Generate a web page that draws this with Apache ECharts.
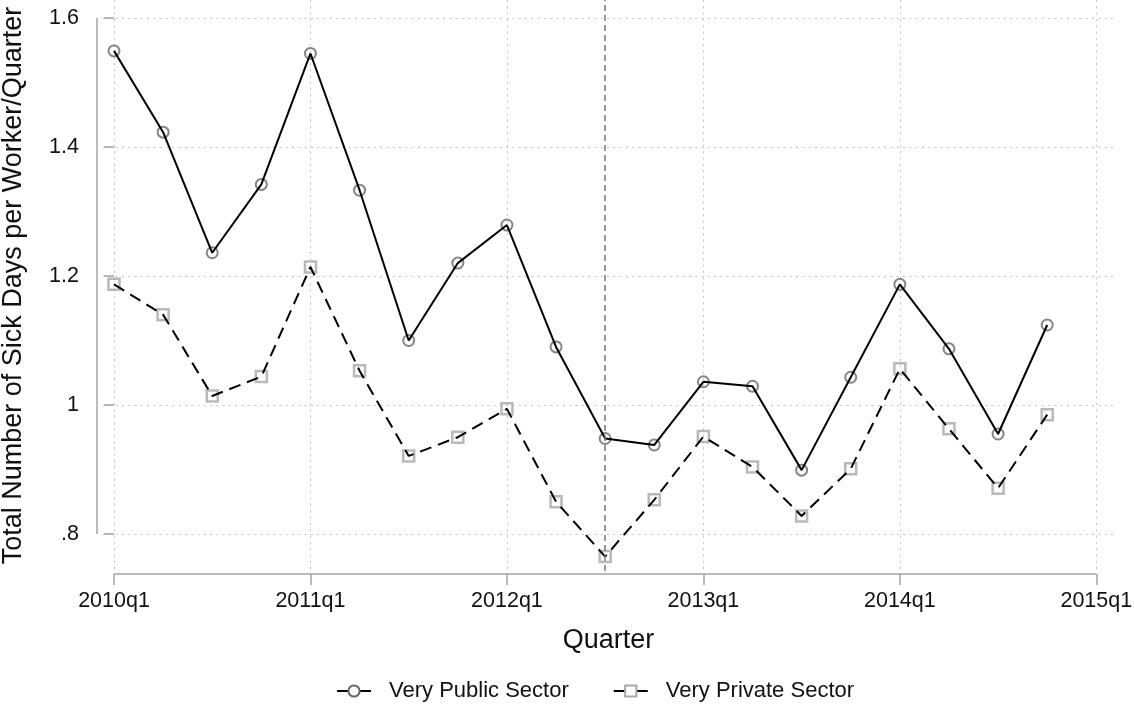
<!DOCTYPE html>
<html><head><meta charset="utf-8">
<script src="https://cdn.jsdelivr.net/npm/echarts@6/dist/echarts.min.js"></script>
<style>html,body{margin:0;padding:0;background:#fff}#c{width:1134px;height:713px}</style>
</head><body><div id="c"></div>
<script>
// ---- data ----
const quarters = ['2010q1','2010q2','2010q3','2010q4','2011q1','2011q2','2011q3','2011q4',
  '2012q1','2012q2','2012q3','2012q4','2013q1','2013q2','2013q3','2013q4',
  '2014q1','2014q2','2014q3','2014q4'];
const publicSector = [1.549,1.423,1.236,1.342,1.545,1.333,1.100,1.220,
  1.279,1.090,0.948,0.938,1.036,1.029,0.899,1.043,
  1.187,1.087,0.955,1.124];
const privateSector = [1.187,1.140,1.014,1.044,1.214,1.053,0.921,0.950,
  0.994,0.850,0.765,0.853,0.951,0.904,0.828,0.901,
  1.056,0.963,0.871,0.985];
const xTickValues = [0,4,8,12,16,20];
const xTickLabels = ['2010q1','2011q1','2012q1','2013q1','2014q1','2015q1'];
const yTickValues = [0.8,1.0,1.2,1.4,1.6];
const yTickLabels = ['.8','1','1.2','1.4','1.6'];
const policyQuarter = '2012q3';
const seriesNames = ['Very Public Sector','Very Private Sector'];
const xTitle = 'Quarter';
const yTitle = 'Total Number of Sick Days per Worker/Quarter';

// ---- layout / style ----
const FONT = 'Liberation Sans, Arial, Helvetica, sans-serif';
const GRID = {left:103, right:20, top:0, bottom:142};
const Y_OFFSET = 6, X_OFFSET = 3;
const AXIS_COLOR = '#a3a3a3';
const GRID_COLOR = '#c4c4c4';

const pairs = arr => arr.map((v,i)=>[i,v]);
const pubData = pairs(publicSector);
const privData = pairs(privateSector);

const chart = echarts.init(document.getElementById('c'), null, {renderer:'canvas'});
const option = {
  animation:false,
  backgroundColor:'#fff',
  grid:{left:GRID.left,right:GRID.right,top:GRID.top,bottom:GRID.bottom,containLabel:false,outerBoundsMode:'none'},
  xAxis:{
    type:'value', min:-0.224, max:20.36, offset:X_OFFSET,
    axisLine:{show:false},
    axisTick:{show:true, customValues:xTickValues, length:11, lineStyle:{color:AXIS_COLOR,width:1.5}},
    axisLabel:{customValues:xTickValues, margin:16, fontFamily:FONT, fontSize:21.5, color:'#111',
      formatter:v=>xTickLabels[xTickValues.indexOf(Math.round(v))] ?? ''},
    splitLine:{show:true, lineStyle:{color:GRID_COLOR,width:1,type:[2,4.3]}},
    name:xTitle, nameLocation:'middle', nameGap:53,
    nameTextStyle:{fontFamily:FONT,fontSize:27,color:'#111'}
  },
  yAxis:{
    type:'value', min:0.7426, max:1.6279, offset:Y_OFFSET,
    axisLine:{show:false},
    axisTick:{show:true, customValues:yTickValues, length:10, lineStyle:{color:AXIS_COLOR,width:1.5}},
    axisLabel:{customValues:yTickValues, margin:18, fontFamily:FONT, fontSize:21.5, color:'#111',
      formatter:v=>{const k=yTickValues.findIndex(t=>Math.abs(t-v)<1e-6);return k>=0?yTickLabels[k]:'';}},
    splitLine:{show:true, lineStyle:{color:GRID_COLOR,width:1,type:[2,4.3]}},
    name:yTitle, nameLocation:'middle', nameGap:70, nameRotate:90,
    nameTextStyle:{fontFamily:FONT,fontSize:27,color:'#111'}
  },
  legend:{
    data:seriesNames, bottom:6, left:331, itemWidth:34, itemHeight:14, itemGap:44,
    textStyle:{fontFamily:FONT,fontSize:22,color:'#111',padding:[0,0,0,13]},
    lineStyle:{type:'solid',color:'#000',width:2}
  },
  series:[
    {name:seriesNames[0]+' markers', type:'scatter', data:pubData, z:2, symbol:'circle', symbolSize:11,
      itemStyle:{color:'rgba(255,255,255,0)',borderColor:'#666',borderWidth:2}, silent:true,
      markLine:{silent:true, symbol:'none', label:{show:false}, animation:false,
        lineStyle:{color:'#777',width:1.5,type:[6,4]},
        data:[{xAxis:quarters.indexOf(policyQuarter)}]}},
    {name:seriesNames[1]+' markers', type:'scatter', data:privData, z:2, symbol:'rect', symbolSize:11,
      itemStyle:{color:'rgba(255,255,255,0)',borderColor:'#a8a8a8',borderWidth:2.5}, silent:true},
    {name:seriesNames[0], type:'line', data:pubData, z:3, showSymbol:false, symbol:'circle', symbolSize:11,
      itemStyle:{color:'#fff',borderColor:'#666',borderWidth:2},
      lineStyle:{color:'#000',width:2}},
    {name:seriesNames[1], type:'line', data:privData, z:3, showSymbol:false, symbol:'rect', symbolSize:11,
      itemStyle:{color:'#fff',borderColor:'#a8a8a8',borderWidth:2.5},
      lineStyle:{color:'#000',width:2,type:[12,7]}}
  ]
};
chart.setOption(option);

// axis lines spanning only first..last tick (Stata style), positioned via the chart's scales
const pLow = chart.convertToPixel({gridIndex:0},[xTickValues[0], yTickValues[0]]);
const pHigh = chart.convertToPixel({gridIndex:0},[xTickValues[xTickValues.length-1], yTickValues[yTickValues.length-1]]);
const H = chart.getHeight();
const yAxisX = GRID.left - Y_OFFSET;
const xAxisY = H - GRID.bottom + X_OFFSET;
chart.setOption({graphic:[
  {type:'line', silent:true, z:1, shape:{x1:yAxisX,y1:pHigh[1],x2:yAxisX,y2:pLow[1]}, style:{stroke:AXIS_COLOR,lineWidth:1.5}},
  {type:'line', silent:true, z:1, shape:{x1:pLow[0],y1:xAxisY,x2:pHigh[0],y2:xAxisY}, style:{stroke:AXIS_COLOR,lineWidth:1.5}}
]});
</script></body></html>
